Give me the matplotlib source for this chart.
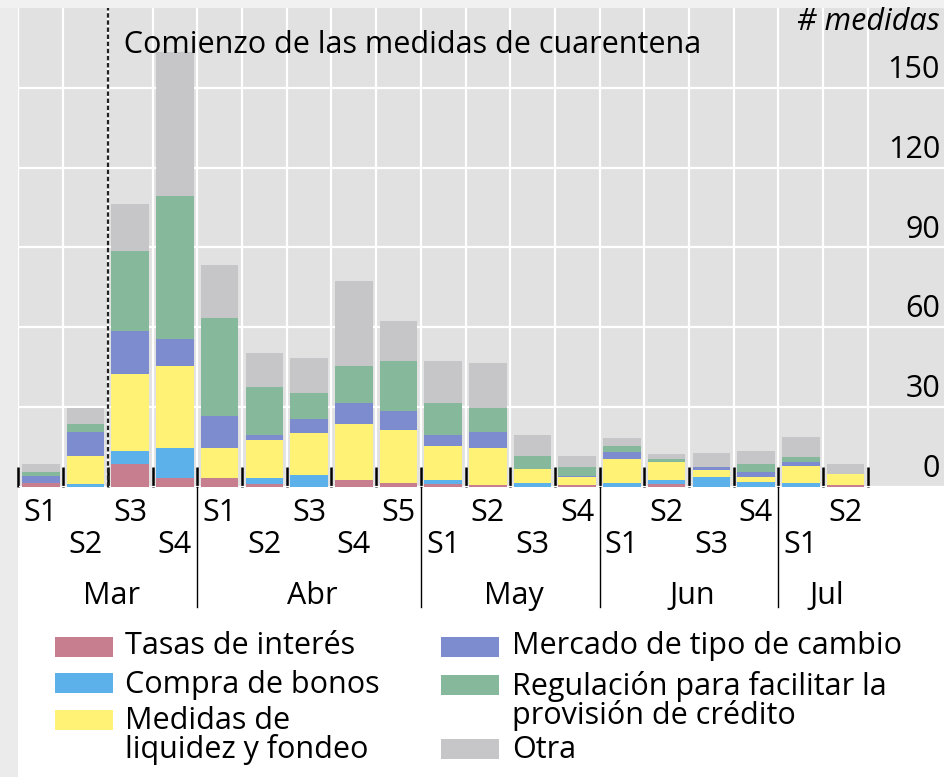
import numpy as np
import matplotlib
matplotlib.use("Agg")
import matplotlib.pyplot as plt
from matplotlib.patches import Rectangle
from matplotlib import transforms

plt.rcParams['font.family'] = ['Open Sans', 'DejaVu Sans']

# ---------------- data ----------------
weeks = ['S1', 'S2', 'S3', 'S4',
         'S1', 'S2', 'S3', 'S4', 'S5',
         'S1', 'S2', 'S3', 'S4',
         'S1', 'S2', 'S3', 'S4',
         'S1', 'S2']
months = ['Mar', 'Abr', 'May', 'Jun', 'Jul']
weeks_per_month = [4, 5, 4, 4, 2]

series_names = ['Tasas de interés', 'Compra de bonos', 'Medidas de\nliquidez y fondeo',
                'Mercado de tipo de cambio', 'Regulación para facilitar la\nprovisión de crédito', 'Otra']

tasas      = [1.5, 0, 8.5, 3.5, 3.5, 1.25, 0, 2.5, 1.5, 1.25, 0.6, 0, 0.6, 0, 1.25, 0, 0, 0, 0.6]
bonos      = [0, 1.25, 5, 11, 0, 2.25, 4.4, 0, 0, 1.25, 0, 1.6, 0, 1.5, 1.25, 3.75, 1.9, 1.5, 0]
liquidez   = [0, 10.25, 29, 31, 11, 14, 16, 21, 20, 13, 14, 5, 3, 9, 7, 2.75, 1.9, 6.25, 4.4]
tipo_cambio= [2.5, 9, 16, 10, 12, 2, 5, 8, 7, 4, 6, 0, 0.6, 2.5, 0, 1, 1.9, 1.6, 0]
regulacion = [1.5, 3, 30, 54, 37, 18, 10, 14, 19, 12, 9, 5, 3.4, 2.5, 1, 0, 3, 2.1, 0]
otra       = [3, 6, 18, 54, 20, 13, 13, 32, 15, 16, 17, 8, 4, 3, 2, 5.25, 5, 7.25, 3.75]

colors = ['#c77f8f', '#5db1ea', '#fff275', '#7d8ccf', '#86b99c', '#c6c6c8']
yticks = [0, 30, 60, 90, 120, 150]

FS = 22

# ---------------- layout helpers ----------------
W, H = 945, 777
def fx(px): return px / W
def fy(py): return 1 - py / H

fig = plt.figure(figsize=(W / 100, H / 100), dpi=100, facecolor='white')
# light frame strips (left & top)
fig.add_artist(Rectangle((0, 0), fx(18), 1, transform=fig.transFigure,
                         facecolor='#ebebeb', edgecolor='none', zorder=-10))
fig.add_artist(Rectangle((0, fy(8)), 1, 1 - fy(8), transform=fig.transFigure,
                         facecolor='#f1f1f1', edgecolor='none', zorder=-10))

ax_left, ax_bottom = 18.5, 487
ax = fig.add_axes([fx(ax_left), fy(ax_bottom), fx(W - ax_left), (ax_bottom - 8) / H])
ax.set_facecolor('#e1e1e1')
for s in ax.spines.values():
    s.set_visible(False)

x = np.arange(len(weeks))
data = [tasas, bonos, liquidez, tipo_cambio, regulacion, otra]
bottom = np.zeros(len(weeks))
for vals, c, name in zip(data, colors, series_names):
    vals = np.array(vals, dtype=float)
    ax.bar(x, vals, width=0.84, bottom=bottom, color=c, edgecolor='none', zorder=2, label=name)
    bottom += vals

ax.set_xlim(-0.5, -0.5 + (W - ax_left) / 44.7)
ax.set_ylim(0, 180)

# grid
ax.set_yticks(yticks)
ax.yaxis.set_tick_params(left=False, labelleft=False)
ax.set_xticks(np.arange(-0.5, len(weeks), 1.0), minor=True)
ax.set_xticks(x)
ax.grid(axis='y', which='major', color='white', lw=1.6, zorder=0)
ax.grid(axis='x', which='minor', color='white', lw=1.6, zorder=0)
ax.grid(axis='x', which='major', visible=False)
ax.set_axisbelow(True)
ax.tick_params(axis='x', which='minor', direction='in', length=14.5, width=1.8,
               color='black', bottom=True)
ax.tick_params(axis='x', which='major', length=0, pad=8, labelsize=FS)

labels = [w if i % 2 == 0 else '\n' + w for i, w in enumerate(weeks)]
ax.set_xticklabels(labels, linespacing=1.1)

# month labels and separators
bt = transforms.blended_transform_factory(ax.transData, ax.transAxes)
start = 0
for m, n in zip(months, weeks_per_month):
    center = start + (n - 1) / 2
    ax.text(center + 0.08, (ax_bottom - 596) / 479, m, transform=bt, ha='center', va='center',
            fontsize=FS)
    end = start + n
    if end < len(weeks):
        ax.plot([end - 0.5, end - 0.5], [0, (ax_bottom - 607) / 479], transform=bt,
                color='black', lw=1.0, clip_on=False, zorder=5)
    start = end

# quarantine start line
ax.axvline(1.5, color='#222222', lw=1.6, linestyle=(0, (2, 1.2)), zorder=4)
ax.text(1.5, 166, '  Comienzo de las medidas de cuarentena', ha='left', va='center',
        fontsize=FS, zorder=6)

# y labels inside, right side
yt = transforms.blended_transform_factory(ax.transAxes, ax.transData)
yt_off = transforms.offset_copy(yt, fig=fig, x=0, y=18, units='dots')
for v in yticks:
    ax.text((940 - ax_left) / (W - ax_left), v, str(v), transform=yt_off,
            ha='right', va='center', fontsize=FS)
ax.text((940 - ax_left) / (W - ax_left), (ax_bottom - 22) / 479, '# medidas',
        transform=ax.transAxes, ha='right', va='center', fontsize=FS, style='italic')

# legend (manual, two columns)
legend_items = [
    (0, 55, 647, 125, 646),
    (1, 55, 683, 125, 685),
    (2, 55, 720, 125, 721),
    (3, 441, 647, 512, 646),
    (4, 441, 685, 512, 686),
    (5, 441, 749, 512, 750),
]
for idx, px, py, tx, ty in legend_items:
    fig.add_artist(Rectangle((fx(px), fy(py + 10)), fx(58), 20 / H, transform=fig.transFigure,
                             facecolor=colors[idx], edgecolor='none'))
    name = series_names[idx]
    nlines = name.count('\n') + 1
    if nlines == 1:
        fig.text(fx(tx), fy(ty), name, ha='left', va='center', fontsize=FS)
    else:
        fig.text(fx(tx), fy(ty - 15), name, ha='left', va='top', fontsize=FS,
                 linespacing=0.92)

fig.savefig('out.png', dpi=100, facecolor=fig.get_facecolor())
